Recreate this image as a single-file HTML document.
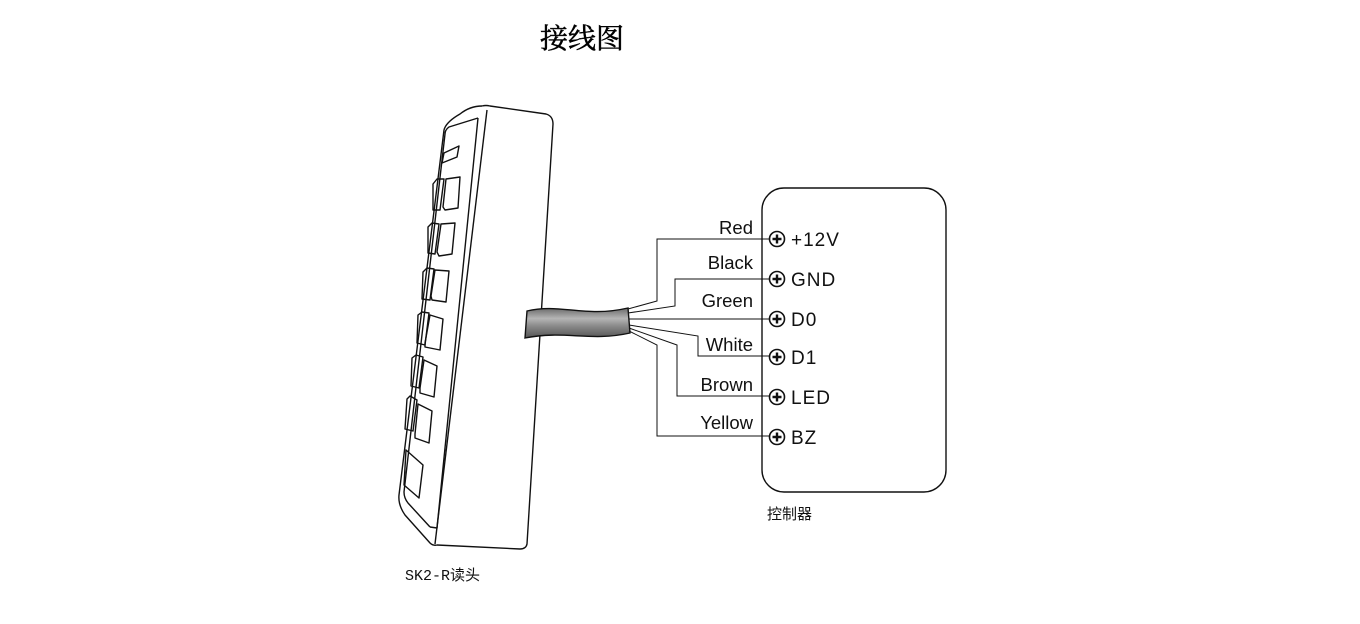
<!DOCTYPE html>
<html><head><meta charset="utf-8"><style>
html,body{margin:0;padding:0;background:#fff;}
svg{display:block;}
</style></head><body>
<svg width="1360" height="624" viewBox="0 0 1360 624" xmlns="http://www.w3.org/2000/svg">
<defs>
<linearGradient id="cab" x1="0" y1="0" x2="0" y2="1">
<stop offset="0" stop-color="#6a6a6a"/><stop offset="0.35" stop-color="#b5b5b5"/><stop offset="0.6" stop-color="#8a8a8a"/><stop offset="1" stop-color="#555"/>
</linearGradient>
</defs>
<text x="540" y="48" font-family="'Liberation Serif','Noto Serif CJK SC',serif" font-size="28" fill="#000" stroke="#000" stroke-width="0.5">接线图</text>

<g fill="none" stroke="#111" stroke-width="1.4" stroke-linejoin="round">
<path d="M482,106 Q486,105 490,106 L546,114 Q553,116 553,124 L527,544 Q526,549 520,549 L437,545"/>
<path d="M487,110 L435,544"/>
<path d="M482,106 Q470,106 460,114 Q446,122 444,130 L399,495 Q398,505 405,515 L430,543 Q433,546 437,545"/>
<path d="M478,118 L449,127 Q445,130 445,134 L404,492 Q404,498 408,503 L430,527"/>
<path d="M478,118 L437,528 L430,527"/>
<path d="M444,153 L459,146 L457,157 L442,163 Z"/>
<g>
<path d="M433,184 L437,179 L444,179 L440,210 L433,210 Z"/>
<path d="M446,179 L460,177 L458,208 L445,210 L443,207 Z"/>
<path d="M428,227 L432,223 L439,224 L435,254 L428,253 Z"/>
<path d="M441,224 L455,223 L452,254 L439,256 L437,252 Z"/>
<path d="M423,272 L427,268 L434,269 L430,300 L422,299 Z"/>
<path d="M435,270 L449,271 L446,302 L432,300 L431,296 Z"/>
<path d="M418,315 L422,312 L429,313 L425,345 L417,343 Z"/>
<path d="M430,315 L443,319 L440,350 L425,347 L425,343 Z"/>
<path d="M412,358 L416,355 L423,357 L419,388 L411,386 Z"/>
<path d="M424,360 L437,366 L434,397 L420,393 L420,388 Z"/>
<path d="M407,399 L410,396 L417,400 L413,431 L405,429 Z"/>
<path d="M418,404 L432,411 L429,443 L415,438 L415,434 Z"/>
<path d="M406,450 L423,465 L419,498 L404,485 Z"/>
</g>
</g>

<path d="M527,311 C560,303 585,318 628,308 L630,333 C590,342 565,330 525,338 Z" fill="url(#cab)" stroke="#111" stroke-width="1.4"/>

<g fill="none" stroke="#111" stroke-width="1">
<path d="M628,309 L657,301 L657,239 L770,239"/>
<path d="M628,313 L675,306 L675,279 L770,279"/>
<path d="M629,319 L770,319"/>
<path d="M629,325 L698,336 L698,356 L770,356"/>
<path d="M629,328 L677,345 L677,396 L770,396"/>
<path d="M629,331 L657,345 L657,436 L770,436"/>
</g>

<rect x="762" y="188" width="184" height="304" rx="22" ry="22" fill="none" stroke="#111" stroke-width="1.4"/>
<g font-family="'Liberation Sans',sans-serif" font-size="18.5" fill="#111">
<g text-anchor="end">
<text x="753" y="234">Red</text>
<text x="753" y="269">Black</text>
<text x="753" y="307">Green</text>
<text x="753" y="351">White</text>
<text x="753" y="391">Brown</text>
<text x="753" y="429">Yellow</text>
</g>
<g letter-spacing="1" font-size="19">
<text x="791" y="246">+12V</text>
<text x="791" y="286">GND</text>
<text x="791" y="326">D0</text>
<text x="791" y="364">D1</text>
<text x="791" y="404">LED</text>
<text x="791" y="444">BZ</text>
</g>
</g>
<g fill="#fff" stroke="#111" stroke-width="1.6">
<circle cx="777" cy="239" r="7.5"/><circle cx="777" cy="279" r="7.5"/><circle cx="777" cy="319" r="7.5"/>
<circle cx="777" cy="357" r="7.5"/><circle cx="777" cy="397" r="7.5"/><circle cx="777" cy="437" r="7.5"/>
</g>
<g stroke="#111" stroke-width="2.4">
<path d="M772.5,239h9M777,234.5v9"/><path d="M772.5,279h9M777,274.5v9"/><path d="M772.5,319h9M777,314.5v9"/>
<path d="M772.5,357h9M777,352.5v9"/><path d="M772.5,397h9M777,392.5v9"/><path d="M772.5,437h9M777,432.5v9"/>
</g>

<text x="767" y="519" font-family="'Liberation Mono','Noto Sans CJK SC',monospace" font-size="15" fill="#111">控制器</text>
<text x="405" y="580" font-family="'Liberation Mono','Noto Sans CJK SC',monospace" font-size="15" fill="#111">SK2-R读头</text>
</svg>
</body></html>
